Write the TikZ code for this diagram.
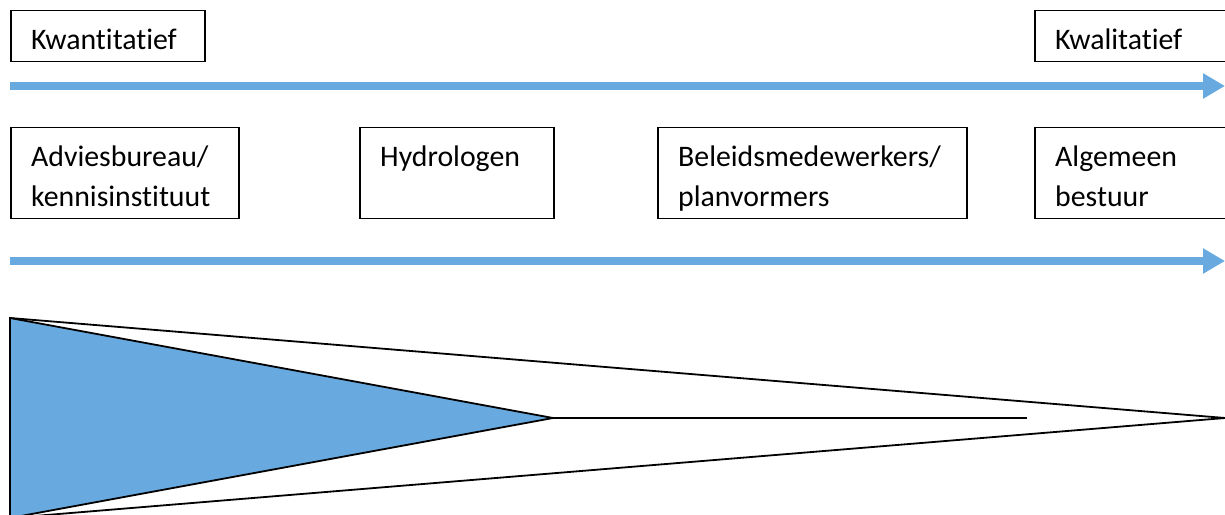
\documentclass[tikz,border=0pt]{standalone}
\usepackage{fontspec}
\setmainfont{Carlito}[Ligatures={NoCommon,NoContextual}]
\usetikzlibrary{arrows.meta}
\definecolor{bandblue}{HTML}{68AAE0}
\tikzset{
  box/.style={draw=black, line width=1.5bp, rectangle, inner sep=0pt, anchor=north west},
  lbl/.style={anchor=base west, inner sep=0pt, font=\fontsize{29.8bp}{40bp}\selectfont},
  band/.style={draw=bandblue, line width=8bp, -{Triangle[length=22bp,width=24bp]}},
  edge/.style={draw=black, line width=1.8bp, line join=miter}
}
\begin{document}
\begin{tikzpicture}[x=1bp,y=-1bp]
\useasboundingbox (0,0) rectangle (1225,515);
\clip (0,0) rectangle (1225,515);
% top boxes
\node[box, minimum width=194bp, minimum height=51bp] (kwan) at (10,10) {};
\node[lbl] (kwant) at ([shift={(21bp,-40bp)}]kwan.north west) {Kwantitatief};
\node[box, minimum width=200bp, minimum height=51bp] (kwal) at (1034,10) {};
\node[lbl] (kwalt) at ([shift={(21bp,-40bp)}]kwal.north west) {Kwalitatief};
% arrow 1
\coordinate (a1s) at (10,86);
\coordinate (a1e) at (1225,86);
\draw[band] (a1s) -- (a1e);
% middle boxes
\node[box, minimum width=228bp, minimum height=91bp] (b1) at (10,127) {};
\node[lbl, align=left] (b1t) at ([shift={(21bp,-80bp)}]b1.north west) {Adviesbureau/\\kennisinstituut};
\node[box, minimum width=194bp, minimum height=91bp] (b2) at (359,127) {};
\node[lbl] (b2t) at ([shift={(21bp,-40bp)}]b2.north west) {Hydrologen};
\node[box, minimum width=309bp, minimum height=91bp] (b3) at (657,127) {};
\node[lbl, align=left] (b3t) at ([shift={(21bp,-80bp)}]b3.north west) {Beleidsmedewerkers/\\planvormers};
\node[box, minimum width=200bp, minimum height=91bp] (b4) at (1034,127) {};
\node[lbl, align=left] (b4t) at ([shift={(21bp,-80bp)}]b4.north west) {Algemeen\\bestuur};
% arrow 2
\coordinate (a2s) at (10,261);
\coordinate (a2e) at (1225,261);
\draw[band] (a2s) -- (a2e);
% triangles
\coordinate (tl) at (10,318);
\coordinate (bl) at (10,518);
\coordinate (outer) at (1225,418);
\coordinate (inner) at (553,418);
\coordinate (lineend) at (1027,418);
\draw[edge] (tl) -- (outer) -- (bl);
\filldraw[edge, fill=bandblue] (tl) -- (inner) -- (bl) -- cycle;
\draw[edge] (inner) -- (lineend);
\end{tikzpicture}
\end{document}
